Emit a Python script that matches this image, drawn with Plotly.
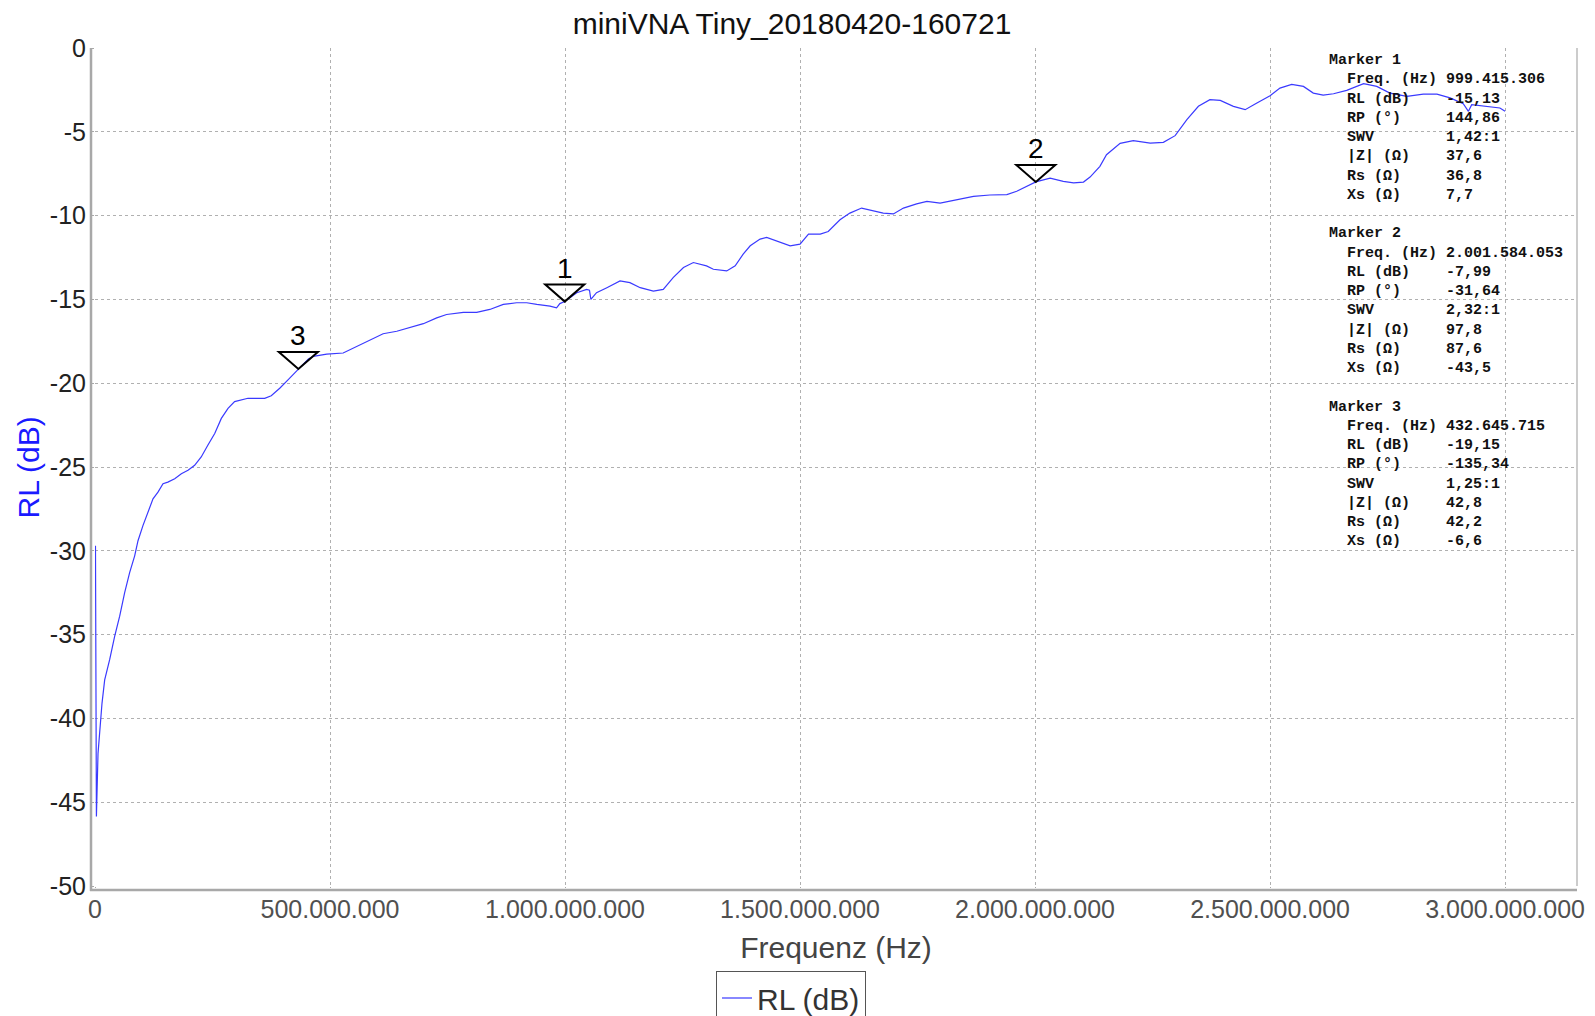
import plotly.graph_objects as go

# ---------------- data ----------------
freq_mhz = [1, 3, 6.4, 14.9, 20.6, 31.2, 41.8, 52.5, 63.1, 73.7, 84.4, 91.5, 102, 112.8, 123.4,
            134, 144.7, 155, 169.6, 183.7, 197.9, 212, 226, 240, 254.7, 268.8, 283, 297, 311,
            325.5, 339.8, 361, 375, 393, 410.6, 432.6, 443, 454, 464.5, 493, 528, 556.7, 585,
            613, 642, 670, 698.6, 727, 748, 783.6, 812, 840, 868.7, 897, 918.5, 940, 968, 982,
            989, 999.4, 1025, 1046, 1052, 1055, 1067, 1089, 1117, 1138, 1160, 1188, 1209, 1230,
            1252, 1273, 1301, 1315.6, 1344, 1362, 1379, 1394, 1415, 1429, 1450, 1479, 1500,
            1518, 1543, 1560, 1585, 1606, 1631, 1656, 1677, 1698.6, 1720, 1748, 1770, 1798,
            1833, 1869, 1904, 1940, 1961, 1982, 2001.6, 2032, 2060, 2082, 2103, 2117, 2138,
            2152, 2181, 2209, 2245, 2273, 2298, 2323, 2347.5, 2372, 2394, 2422, 2447, 2472,
            2500, 2521, 2546, 2571, 2592, 2613, 2635, 2663, 2699, 2727, 2755, 2791, 2826, 2855,
            2883, 2911, 2922, 2929, 2961, 2989, 3000]
rl_db = [-29.7, -45.85, -42.1, -39.1, -37.7, -36.5, -35.1, -33.9, -32.5, -31.3, -30.3, -29.4,
         -28.5, -27.7, -26.9, -26.5, -26.0, -25.9, -25.7, -25.4, -25.2, -24.9, -24.4, -23.7,
         -23.0, -22.1, -21.5, -21.1, -21.0, -20.9, -20.9, -20.9, -20.75, -20.3, -19.8, -19.15,
         -18.9, -18.55, -18.4, -18.26, -18.2, -17.8, -17.4, -17.05, -16.9, -16.7, -16.45,
         -16.1, -15.9, -15.77, -15.77, -15.6, -15.3, -15.2, -15.2, -15.3, -15.4, -15.5,
         -15.25, -15.13, -14.6, -14.4, -14.45, -15.0, -14.6, -14.3, -13.9, -14.0, -14.3,
         -14.5, -14.4, -13.7, -13.1, -12.8, -13.0, -13.2, -13.3, -13.0, -12.3, -11.8, -11.4,
         -11.3, -11.5, -11.8, -11.7, -11.1, -11.1, -10.95, -10.25, -9.85, -9.55, -9.7, -9.85,
         -9.9, -9.55, -9.3, -9.15, -9.25, -9.05, -8.85, -8.77, -8.75, -8.55, -8.26, -7.99,
         -7.76, -7.96, -8.05, -8.0, -7.7, -7.06, -6.37, -5.69, -5.53, -5.67, -5.63, -5.23,
         -4.28, -3.48, -3.08, -3.13, -3.48, -3.68, -3.28, -2.85, -2.39, -2.17, -2.29, -2.69,
         -2.81, -2.73, -2.53, -2.13, -2.29, -2.69, -2.89, -2.75, -2.75, -2.98, -3.32, -3.78,
         -3.38, -3.48, -3.58, -3.78]

marker_ids = ["1", "2", "3"]
marker_freq_hz = [999415306, 2001584053, 432645715]
marker_rl_db = [-15.13, -7.99, -19.15]

info_labels = ["Freq. (Hz)", "RL (dB)", "RP (°)", "SWV", "|Z| (Ω)", "Rs (Ω)", "Xs (Ω)"]
marker1_values = ["999.415.306", "-15,13", "144,86", "1,42:1", "37,6", "36,8", "7,7"]
marker2_values = ["2.001.584.053", "-7,99", "-31,64", "2,32:1", "97,8", "87,6", "-43,5"]
marker3_values = ["432.645.715", "-19,15", "-135,34", "1,25:1", "42,8", "42,2", "-6,6"]

x_tickvals = [0, 5e8, 1e9, 1.5e9, 2e9, 2.5e9, 3e9]
x_ticktext = ["0", "500.000.000", "1.000.000.000", "1.500.000.000", "2.000.000.000",
              "2.500.000.000", "3.000.000.000"]
y_tickvals = [0, -5, -10, -15, -20, -25, -30, -35, -40, -45, -50]
y_ticktext = ["0", "-5", "-10", "-15", "-20", "-25", "-30", "-35", "-40", "-45", "-50"]

# ---------------- layout geometry ----------------
# the page body has an 8px margin, so the figure is made 8px smaller and
# all page-pixel positions below are shifted by 8px.
OFF = 8
W, H = 1595 - OFF, 1016 - OFF
L, R, T, B = 95 - OFF, 18, 48 - OFF, 130
PW, PH = W - L - R, H - T - B


def px(X):
    # X is a page pixel coordinate
    return (X - OFF - L) / PW


def py(Y):
    return (H - B - (Y - OFF)) / PH


freq_hz = [f * 1e6 for f in freq_mhz]

fig = go.Figure()
fig.add_trace(go.Scatter(x=freq_hz, y=rl_db, mode="lines", name="RL (dB)",
                         line=dict(color="#3a3aff", width=1.2)))

shapes = []
annotations = []
# marker triangles and numbers
for mid, mf, mr in zip(marker_ids, marker_freq_hz, marker_rl_db):
    shapes.append(dict(type="path", xref="x", yref="y", xsizemode="pixel", ysizemode="pixel",
                       xanchor=mf, yanchor=mr, path="M-19.5,17 L19.5,17 L0,0 Z",
                       line=dict(color="black", width=2), fillcolor="rgba(0,0,0,0)"))
    annotations.append(dict(x=mf, y=mr, xref="x", yref="y", text=mid, showarrow=False,
                            yshift=33, yanchor="middle",
                            font=dict(family="Liberation Sans", size=28, color="black")))

# marker info text block
mono = dict(family="Liberation Mono", size=15, color="#111111", weight=700)
line_h = 19.25
for k, vals in enumerate([marker1_values, marker2_values, marker3_values]):
    y0 = 60.7 + k * 9 * line_h
    annotations.append(dict(x=px(1326.5), y=py(y0), xref="paper", yref="paper",
                            text="Marker " + marker_ids[k], showarrow=False,
                            xanchor="left", yanchor="middle", font=mono))
    for i, (lab, val) in enumerate(zip(info_labels, vals)):
        yy = y0 + (i + 1) * line_h
        annotations.append(dict(x=px(1344.5), y=py(yy), xref="paper", yref="paper", text=lab,
                                showarrow=False, xanchor="left", yanchor="middle", font=mono))
        annotations.append(dict(x=px(1444), y=py(yy), xref="paper", yref="paper", text=val,
                                showarrow=False, xanchor="left", yanchor="middle", font=mono))

# y-axis title (placed as rotated text left of the tick labels)
annotations.append(dict(x=px(27.5), y=py(468), xref="paper", yref="paper", text="RL (dB)",
                        showarrow=False, textangle=-90, xanchor="center", yanchor="middle",
                        font=dict(family="Liberation Sans", size=30, color="#1a1aff")))

# axis lines (offset from plot area) and right border
shapes.append(dict(type="line", xref="paper", yref="paper", x0=px(91), x1=px(91),
                   y0=py(891), y1=1, line=dict(color="#a8a8a8", width=2.5)))
shapes.append(dict(type="line", xref="paper", yref="paper", x0=px(90), x1=1,
                   y0=py(890), y1=py(890), line=dict(color="#a8a8a8", width=2.5)))
shapes.append(dict(type="line", xref="paper", yref="paper", x0=1, x1=1,
                   y0=0, y1=1, line=dict(color="#999999", width=1)))

fig.update_layout(
    width=W, height=H,
    margin=dict(l=L, r=R, t=T, b=B, autoexpand=False),
    paper_bgcolor="white", plot_bgcolor="white",
    title=dict(text="miniVNA Tiny_20180420-160721", x=(792 - OFF) / W, xref="container",
               xanchor="center", y=1 - (23.5 - OFF) / H, yref="container", yanchor="middle",
               font=dict(family="Liberation Sans", size=30, color="#111111")),
    xaxis=dict(range=[0, 3.153e9], tickmode="array", tickvals=x_tickvals, ticktext=x_ticktext,
               showgrid=True, gridcolor="#b0b0b0", griddash="dot", gridwidth=1,
               zeroline=False, showline=False, ticks="outside", ticklen=1,
               tickcolor="#a8a8a8", automargin=False,
               tickfont=dict(family="Liberation Sans", size=25, color="#505050"),
               title=dict(text="Frequenz (Hz)", standoff=14,
                          font=dict(family="Liberation Sans", size=30, color="#444444"))),
    yaxis=dict(range=[-50, 0], tickmode="array", tickvals=y_tickvals, ticktext=y_ticktext,
               showgrid=True, gridcolor="#b0b0b0", griddash="dot", gridwidth=1,
               zeroline=False, showline=False, ticks="outside", ticklen=3,
               tickcolor="#a8a8a8", automargin=False,
               tickfont=dict(family="Liberation Sans", size=25, color="#222222")),
    showlegend=True,
    legend=dict(orientation="h", x=px(791), xanchor="center", y=py(971), yanchor="top",
                bordercolor="#555555", borderwidth=1, itemwidth=30,
                font=dict(family="Liberation Sans", size=30, color="#333333")),
    shapes=shapes,
    annotations=annotations,
)

fig.write_html("out.html")
